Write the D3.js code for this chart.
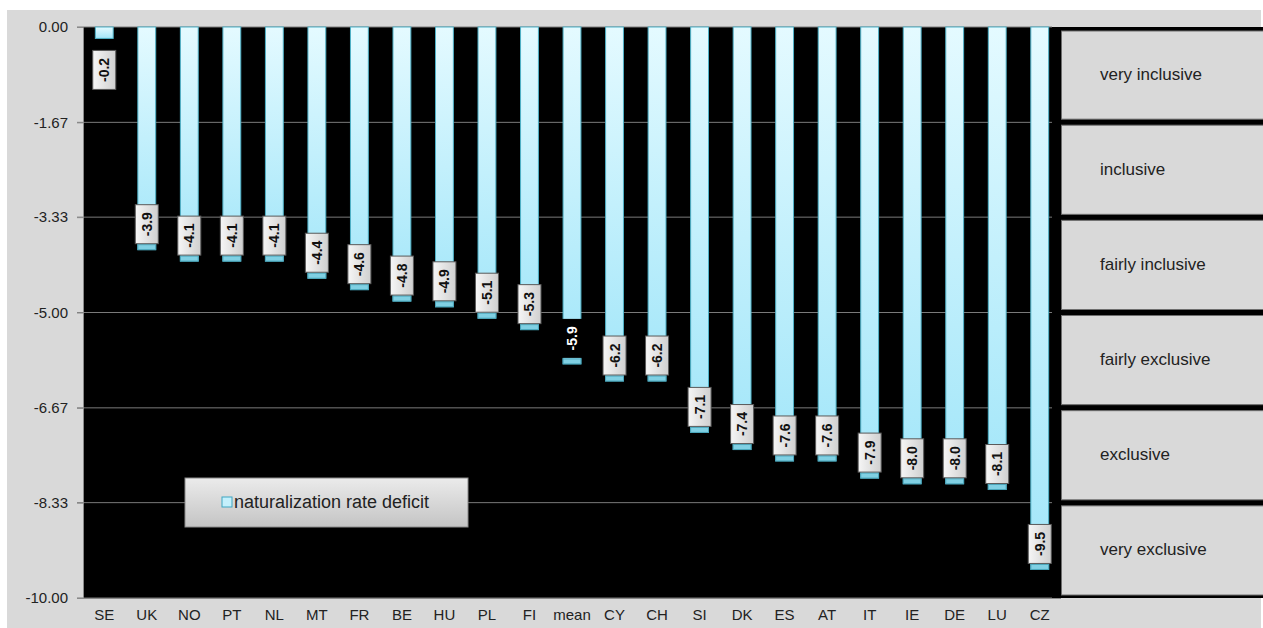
<!DOCTYPE html>
<html>
<head>
<meta charset="utf-8">
<script src="https://cdn.jsdelivr.net/npm/d3@7"></script>
<style>
  html, body { margin: 0; padding: 0; background: #ffffff; }
  svg { display: block; font-family: "Liberation Sans", Arial, sans-serif; }
</style>
</head>
<body>
<svg id="chart" width="1263" height="628"></svg>
<script>
// Countries ordered from most to least inclusive, with the sample mean in between
const categories = ["SE","UK","NO","PT","NL","MT","FR","BE","HU","PL","FI","mean","CY","CH","SI","DK","ES","AT","IT","IE","DE","LU","CZ"];
const deficit = [-0.2,-3.9,-4.1,-4.1,-4.1,-4.4,-4.6,-4.8,-4.9,-5.1,-5.3,-5.9,-6.2,-6.2,-7.1,-7.4,-7.6,-7.6,-7.9,-8.0,-8.0,-8.1,-9.5];
const yTicks = [0, -1.67, -3.33, -5.00, -6.67, -8.33, -10.00];
const bands = ["very inclusive","inclusive","fairly inclusive","fairly exclusive","exclusive","very exclusive"];
const seriesName = "naturalization rate deficit";

// plain hyphen-minus formatting
const fmt = p => v => d3.format(p)(v).replace("\u2212", "-");

const svg = d3.select("#chart");
const W = 1263, H = 628;
const plot = { left: 83, top: 27, right: 1061, bottom: 598, panelRight: 1263 };

const defs = svg.append("defs");
const barGrad = defs.append("linearGradient").attr("id", "barGrad")
  .attr("x1", 0).attr("y1", 0).attr("x2", 0).attr("y2", 1);
barGrad.append("stop").attr("offset", "0%").attr("stop-color", "#e4faff");
barGrad.append("stop").attr("offset", "100%").attr("stop-color", "#a2e6f9");
const boxGrad = defs.append("linearGradient").attr("id", "boxGrad")
  .attr("x1", 0).attr("y1", 0).attr("x2", 1).attr("y2", 0);
boxGrad.append("stop").attr("offset", "0%").attr("stop-color", "#f6f6f6");
boxGrad.append("stop").attr("offset", "100%").attr("stop-color", "#cfcfcf");
const legGrad = defs.append("linearGradient").attr("id", "legGrad")
  .attr("x1", 0).attr("y1", 0).attr("x2", 0).attr("y2", 1);
legGrad.append("stop").attr("offset", "0%").attr("stop-color", "#ebebeb");
legGrad.append("stop").attr("offset", "100%").attr("stop-color", "#c4c4c4");

// outer grey frame
svg.append("rect").attr("x", 7).attr("y", 10).attr("width", W - 9).attr("height", H - 10)
  .attr("fill", "#d9d9d9");

// black plotting surface (extends under the classification panel)
svg.append("rect").attr("x", plot.left).attr("y", plot.top)
  .attr("width", plot.panelRight - plot.left).attr("height", plot.bottom - plot.top)
  .attr("fill", "#000000");

const x = d3.scaleBand().domain(categories).range([plot.left, plot.right])
  .paddingInner(0.58).paddingOuter(0.29);
const y = d3.scaleLinear().domain([-10, 0]).range([plot.bottom, plot.top]);

// horizontal gridlines
svg.append("g").selectAll("line").data(yTicks).join("line")
  .attr("x1", plot.left - 6).attr("x2", 1052)
  .attr("y1", d => y(d)).attr("y2", d => y(d))
  .attr("stroke", "#7a7a7a").attr("stroke-width", 1);

// y axis
const yAxis = d3.axisLeft(y).tickValues(yTicks).tickFormat(fmt(".2f")).tickSize(6).tickPadding(8);
const gy = svg.append("g").attr("transform", `translate(${plot.left},0)`).call(yAxis);
gy.select(".domain").attr("stroke", "#8a8a8a");
gy.selectAll(".tick line").attr("stroke", "#8a8a8a");
gy.selectAll(".tick text").attr("font-size", 15).attr("fill", "#222")
  .attr("font-family", "'Liberation Sans', Arial, sans-serif").attr("dx", -1);

// x axis
const xAxis = d3.axisBottom(x).tickSize(0).tickPadding(11);
const gx = svg.append("g").attr("transform", `translate(0,${plot.bottom})`).call(xAxis);
gx.select(".domain").attr("stroke", "#8a8a8a").attr("d", `M${plot.left},0.5H${plot.right}`);
gx.selectAll(".tick text").attr("font-size", 15).attr("fill", "#222")
  .attr("font-family", "'Liberation Sans', Arial, sans-serif");

// bars
const data = categories.map((c, i) => ({ c, v: deficit[i] }));
const bw = x.bandwidth();
const gBars = svg.append("g");
gBars.selectAll("rect.bar").data(data).join("rect").attr("class", "bar")
  .attr("x", d => x(d.c)).attr("width", bw)
  .attr("y", y(0)).attr("height", d => y(d.v) - y(0))
  .attr("fill", "url(#barGrad)").attr("stroke", "#4fb2c8").attr("stroke-width", 1);

// darker base at the end of each bar
const baseH = 5;
gBars.selectAll("rect.base").data(data.filter(d => y(d.v) - y(0) > 40)).join("rect").attr("class", "base")
  .attr("x", d => x(d.c)).attr("width", bw)
  .attr("y", d => y(d.v) - baseH).attr("height", baseH)
  .attr("fill", "#80d0e3").attr("stroke", "#4aa6bb").attr("stroke-width", 1);

// value labels (rotated, in small boxes over the bar ends)
const boxW = 23, boxH = 39, gap = 6;
const gLab = svg.append("g");
data.forEach(d => {
  let top = y(d.v) - gap - boxH;
  if (top < y(0)) top = y(d.v) + 12;
  const cx = x(d.c) + bw / 2;
  const isMean = d.c === "mean";
  gLab.append("rect")
    .attr("x", cx - boxW / 2).attr("y", top).attr("width", boxW).attr("height", boxH)
    .attr("fill", isMean ? "#000000" : "url(#boxGrad)")
    .attr("stroke", isMean ? "none" : "#5a5a5a").attr("stroke-width", 1);
  gLab.append("text")
    .attr("transform", `translate(${cx + 5},${top + boxH / 2}) rotate(-90)`)
    .attr("text-anchor", "middle")
    .attr("font-size", 14).attr("font-weight", "bold")
    .attr("fill", isMean ? "#ffffff" : "#111111")
    .text(fmt(".1f")(d.v));
});

// classification panel on the right
const bandH = (plot.bottom - plot.top) / bands.length;
const gPanel = svg.append("g");
bands.forEach((b, i) => {
  const t = plot.top + i * bandH;
  gPanel.append("rect")
    .attr("x", plot.right + 0.5).attr("y", t + (i === 0 ? 4 : 3))
    .attr("width", plot.panelRight - plot.right + 5).attr("height", bandH - (i === 0 ? 7 : 6))
    .attr("fill", "#d9d9d9").attr("stroke", "#6e6e6e").attr("stroke-width", 1);
  gPanel.append("text")
    .attr("x", 1100).attr("y", t + bandH / 2 + 5)
    .attr("font-size", 17).attr("fill", "#222")
    .text(b);
});

// legend
const gLeg = svg.append("g").attr("transform", "translate(185,478)");
gLeg.append("rect").attr("width", 283).attr("height", 49)
  .attr("fill", "url(#legGrad)").attr("stroke", "#8a8a8a");
gLeg.append("rect").attr("x", 37).attr("y", 19).attr("width", 10).attr("height", 10)
  .attr("fill", "#c4f0fc").attr("stroke", "#3fa6c2");
gLeg.append("text").attr("x", 49).attr("y", 30).attr("font-size", 18).attr("fill", "#222")
  .text(seriesName);
</script>
</body>
</html>
